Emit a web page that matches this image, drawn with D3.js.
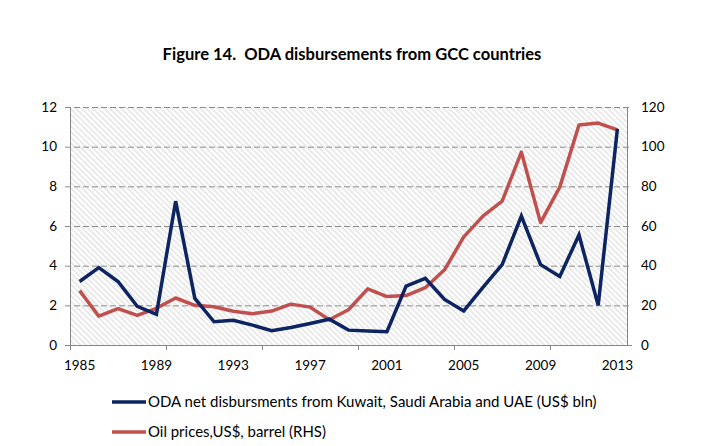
<!DOCTYPE html>
<html>
<head>
<meta charset="utf-8">
<script src="https://cdn.jsdelivr.net/npm/d3@7"></script>
<style>
  html, body { margin: 0; padding: 0; background: #fff; }
  svg { display: block; }
  text { font-family: Lato, "Open Sans", sans-serif; fill: #000; }
</style>
</head>
<body>
<svg id="chart" width="704" height="446"></svg>
<script>
const years = d3.range(1985, 2014);
const tickLabelYears = [1985, 1989, 1993, 1997, 2001, 2005, 2009, 2013];
const odaValues = [3.2, 3.9, 3.2, 1.95, 1.55, 7.25, 2.35, 1.17, 1.25, 1.0, 0.72, 0.88, 1.08, 1.3, 0.75, 0.7, 0.67, 2.97, 3.36, 2.3, 1.72, 2.9, 4.05, 6.5, 4.05, 3.45, 5.55, 2.0, 10.9];
const oilValues = [27.4, 14.5, 18.3, 14.9, 18.5, 23.7, 20.0, 19.3, 17.0, 15.8, 17.1, 20.6, 19.1, 12.7, 17.8, 28.3, 24.4, 24.9, 28.9, 37.9, 54.5, 65.0, 72.5, 97.3, 61.7, 79.6, 110.9, 111.9, 108.5];
const leftTicks = [0, 2, 4, 6, 8, 10, 12];
const rightTicks = [0, 20, 40, 60, 80, 100, 120];
const titleText = "Figure 14.  ODA disbursements from GCC countries";
const seriesNames = ["ODA net disbursments from Kuwait, Saudi Arabia and UAE (US$ bln)", "Oil prices,US$, barrel (RHS)"];
const seriesColors = ["#0c2461", "#c0504d"];

const svg = d3.select("#chart");
const L = 70, R = 627, T = 107, B = 345;

const x = d3.scaleBand().domain(years).range([L, R]).padding(0);
const bw = x.bandwidth();
const cx = d => x(d) + bw / 2;
const yL = d3.scaleLinear().domain([0, 12]).range([B, T]);
const yR = d3.scaleLinear().domain([0, 120]).range([B, T]);

// hatch pattern
const defs = svg.append("defs");
const pat = defs.append("pattern").attr("id", "hatch")
  .attr("patternUnits", "userSpaceOnUse").attr("width", 4).attr("height", 4)
  .attr("patternTransform", "rotate(-45)");
pat.append("rect").attr("width", 4).attr("height", 4).attr("fill", "#ffffff");
pat.append("line").attr("x1", 1).attr("y1", 0).attr("x2", 1).attr("y2", 4)
  .attr("stroke", "#dcdcdc").attr("stroke-width", 1.2);

svg.append("rect").attr("x", L).attr("y", T).attr("width", R - L).attr("height", B - T)
  .attr("fill", "url(#hatch)");

// gridlines
svg.append("g").selectAll("line").data(leftTicks.filter(d => d > 0)).join("line")
  .attr("x1", L - 5).attr("x2", R + 5)
  .attr("y1", d => yL(d) + 0.5).attr("y2", d => yL(d) + 0.5)
  .attr("stroke", "#8c8c8c").attr("stroke-width", 1).attr("stroke-dasharray", "6,3");

// axes lines
const axisColor = "#868686";
svg.append("line").attr("x1", L + 0.5).attr("x2", L + 0.5).attr("y1", T).attr("y2", B).attr("stroke", axisColor);
svg.append("line").attr("x1", R + 0.5).attr("x2", R + 0.5).attr("y1", T).attr("y2", B).attr("stroke", axisColor);
svg.append("line").attr("x1", L - 5).attr("x2", R + 5).attr("y1", B + 0.5).attr("y2", B + 0.5).attr("stroke", axisColor);

// x ticks every 5 categories at boundaries
const tickIdx = d3.range(0, years.length, 5);
svg.append("g").selectAll("line").data(tickIdx).join("line")
  .attr("x1", i => Math.round(L + i * bw) + 0.5).attr("x2", i => Math.round(L + i * bw) + 0.5)
  .attr("y1", B).attr("y2", B + 5).attr("stroke", axisColor);

// tick labels
svg.append("g").selectAll("text").data(leftTicks).join("text")
  .attr("x", 57).attr("y", d => yL(d)).attr("dy", "0.35em")
  .attr("text-anchor", "end").attr("font-size", 13.5).text(d => d);
svg.append("g").selectAll("text").data(rightTicks).join("text")
  .attr("x", 641).attr("y", d => yR(d)).attr("dy", "0.35em")
  .attr("text-anchor", "start").attr("font-size", 13.5).text(d => d);
svg.append("g").selectAll("text").data(tickLabelYears).join("text")
  .attr("x", d => cx(d)).attr("y", 370)
  .attr("text-anchor", "middle").attr("font-size", 13.5).text(d => d);

// lines
const lineL = d3.line().x((d, i) => cx(years[i])).y(d => yL(d));
const lineR = d3.line().x((d, i) => cx(years[i])).y(d => yR(d));
svg.append("path").datum(oilValues).attr("d", lineR).attr("fill", "none")
  .attr("stroke", seriesColors[1]).attr("stroke-width", 3.5).attr("stroke-linejoin", "round");
svg.append("path").datum(odaValues).attr("d", lineL).attr("fill", "none")
  .attr("stroke", seriesColors[0]).attr("stroke-width", 3.5).attr("stroke-linejoin", "miter");

// fit text helper
function fit(sel, target) {
  const w = sel.node().getComputedTextLength();
  const fs = parseFloat(sel.attr("font-size"));
  sel.attr("font-size", fs * target / w);
}

// title
const title = svg.append("text").attr("x", 352).attr("y", 60).attr("text-anchor", "middle")
  .attr("font-weight", "bold").attr("font-size", 14).style("white-space", "pre").text(titleText);
title.attr("xml:space", "preserve");
fit(title, 379);

// legend
const legY = [402, 432];
seriesNames.forEach((name, i) => {
  svg.append("line").attr("x1", 112).attr("x2", 146).attr("y1", legY[i]).attr("y2", legY[i])
    .attr("stroke", seriesColors[i]).attr("stroke-width", 3.5);
  const t = svg.append("text").attr("x", 148).attr("y", legY[i] + 5).attr("font-size", 14).text(name);
  fit(t, i === 0 ? 449 : 178);
});
</script>
</body>
</html>
